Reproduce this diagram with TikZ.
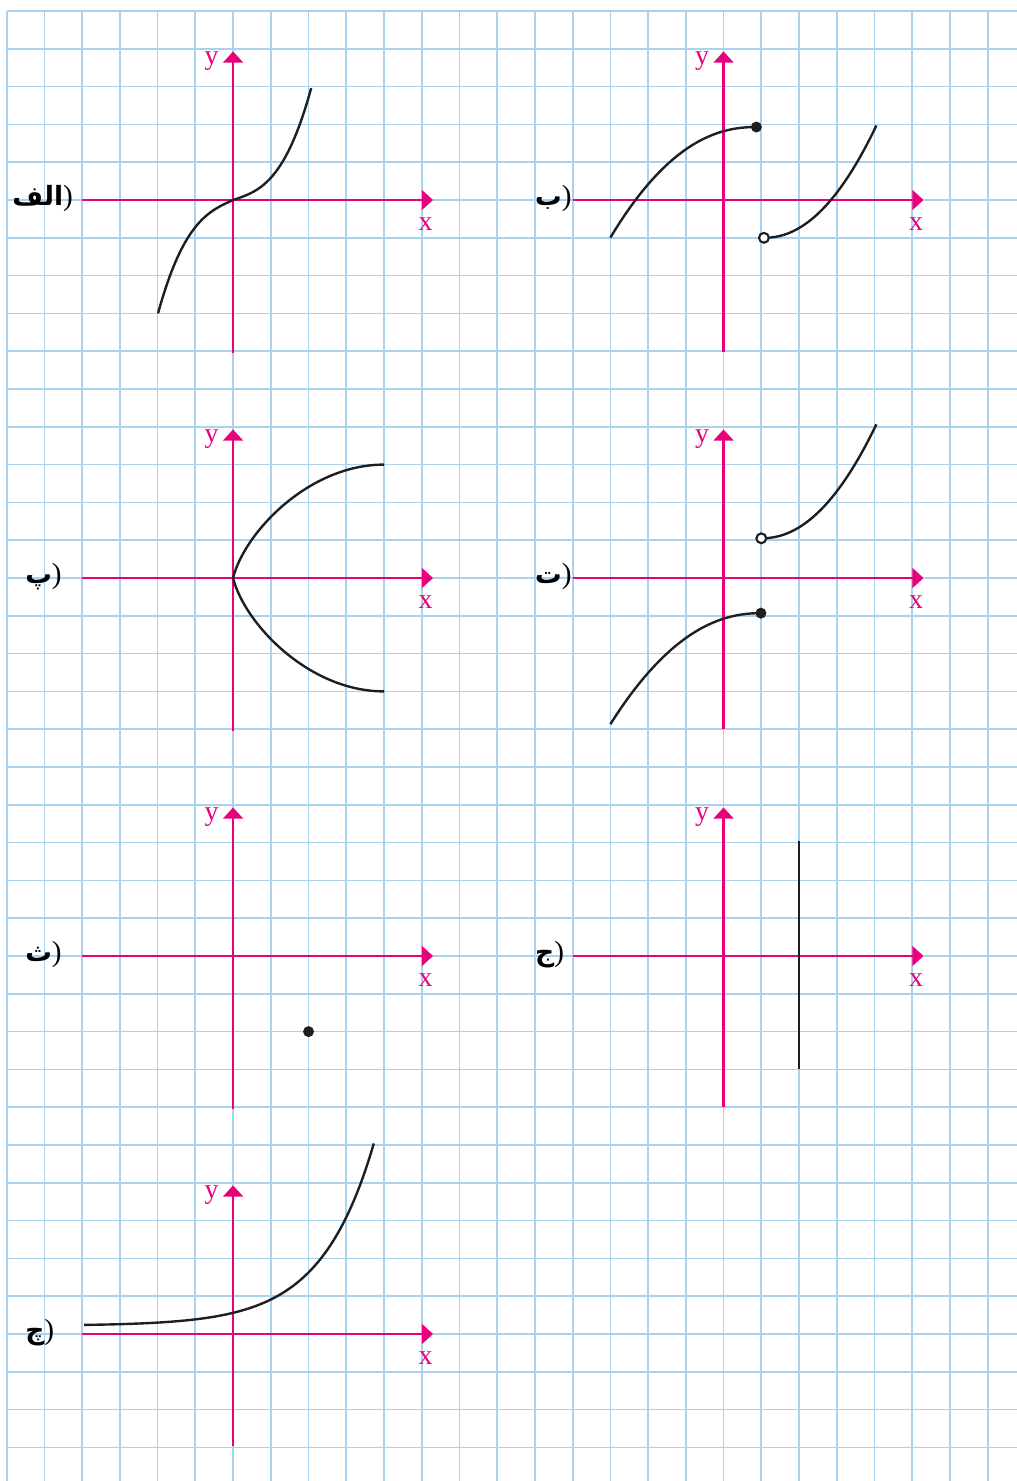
\documentclass[tikz,border=0pt]{standalone}
\usepackage{fontspec}
\setmainfont{Liberation Serif}
\newfontfamily\arabicfont[Script=Arabic]{DejaVu Sans}
\TeXXeTstate=1
\usetikzlibrary{arrows.meta}
\definecolor{gridblue}{RGB}{168,210,240}
\definecolor{axpink}{RGB}{234,0,126}
\definecolor{curveblack}{RGB}{30,30,30}
\tikzset{
  gridline/.style={gridblue, line width=1.3pt},
  axisline/.style={axpink, line width=2.1pt, -{Triangle[length=8.5pt,width=15pt]}},
  curve/.style={curveblack, line width=1.8pt},
  axlabel/.style={axpink, font=\fontsize{21}{25}\selectfont, inner sep=0pt, anchor=base},
  partlabel/.style={font=\fontsize{20}{24}\selectfont\arabicfont\bfseries, anchor=base west, inner sep=0pt},
  closeddot/.style={fill=curveblack},
  opendot/.style={draw=curveblack, fill=white, line width=1.6pt},
}
\newcommand\drawaxes[4]{%
  \begin{scope}[shift={(#2,#3)}]
    \draw[axisline] (-4,0) -- (5.3,0);
    \draw[axisline] (0,#4) -- (0,3.93);
    \node[axlabel] (#1x) at (5.1,-0.81) {x};
    \node[axlabel] (#1y) at (-0.57,3.58) {y};
  \end{scope}}
\newcommand\paren{{\normalfont\mdseries\fontsize{22}{26}\selectfont )}}
\begin{document}
\begin{tikzpicture}[x=1cm, y=1.00186cm]
  \useasboundingbox (-0.1776,0.291) rectangle (26.777,-38.889);
  % grid
  \foreach \i in {0,...,38} \draw[gridline] (0,-\i) -- (26.9,-\i);
  \foreach \i in {0,...,26} \draw[gridline] (\i,0) -- (\i,-39);
  % axes
  \drawaxes{a}{6}{-5}{-4.05}
  \drawaxes{b}{19}{-5}{-4.03}
  \drawaxes{c}{6}{-15}{-4.05}
  \drawaxes{d}{19}{-15}{-4.0}
  \drawaxes{e}{6}{-25}{-4.05}
  \drawaxes{f}{19}{-25}{-4.0}
  \drawaxes{g}{6}{-35}{-2.95}
  % labels
  \node[partlabel, anchor=base east] (la) at (1.76,-5.15) {\beginR الف\endR\paren};
  \node[partlabel] (lb) at (14.0,-5.15) {\beginR ب\endR\paren};
  \node[partlabel] (lc) at (0.485,-15.15) {\beginR پ\endR\paren};
  \node[partlabel] (ld) at (14.0,-15.15) {\beginR ت\endR\paren};
  \node[partlabel] (le) at (0.485,-25.15) {\beginR ث\endR\paren};
  \node[partlabel] (lf) at (14.0,-25.15) {\beginR ج\endR\paren};
  \node[partlabel] (lg) at (0.485,-35.15) {\beginR چ\endR\paren};
  % panel alef
  \begin{scope}[shift={(6,-5)}]
    \draw[curve] plot[domain=-1.99:0, samples=40, smooth] (\x,{0.45*\x+0.2671*\x*\x*\x})
      -- plot[domain=0:2.07, samples=40, smooth] (\x,{0.33*\x+0.2567*\x*\x*\x});
  \end{scope}
  % panel be
  \begin{scope}[shift={(19,-5)}]
    \draw[curve] plot[domain=-3:0.869, samples=50, smooth] (\x,{1.93-0.149*pow(0.87-\x,2.2)});
    \draw[curve] plot[domain=1.071:4.05, samples=50, smooth] (\x,{-1+0.3*pow(\x-1.07,2.1)});
    \fill[closeddot] (0.87,1.93) circle (0.145);
    \draw[opendot] (1.07,-1) circle (0.13);
  \end{scope}
  % panel pe
  \begin{scope}[shift={(6,-15)}]
    \draw[curve] (4,3) .. controls (2,3) and (0.3,1.2) .. (0,0) .. controls (0.3,-1.2) and (2,-3) .. (4,-3);
  \end{scope}
  % panel te
  \begin{scope}[shift={(19,-15)}]
    \draw[curve] plot[domain=1.001:4.05, samples=50, smooth] (\x,{1.05+0.29*pow(\x-1,2.1)});
    \draw[curve] plot[domain=-3:0.989, samples=50, smooth] (\x,{-0.93-0.15*pow(0.99-\x,2.15)});
    \fill[closeddot] (0.99,-0.93) circle (0.145);
    \draw[opendot] (1,1.05) circle (0.13);
  \end{scope}
  % panel se
  \begin{scope}[shift={(6,-25)}]
    \fill[closeddot] (2,-2) circle (0.145);
  \end{scope}
  % panel jim
  \begin{scope}[shift={(19,-25)}]
    \draw[curve] (2,-3) -- (2,3.05);
  \end{scope}
  % panel che
  \begin{scope}[shift={(6,-35)}]
    \draw[curve] plot[domain=-3.95:3.73, samples=80, smooth] (\x,{0.22+0.34*exp(0.711*\x)});
  \end{scope}
\end{tikzpicture}
\end{document}
